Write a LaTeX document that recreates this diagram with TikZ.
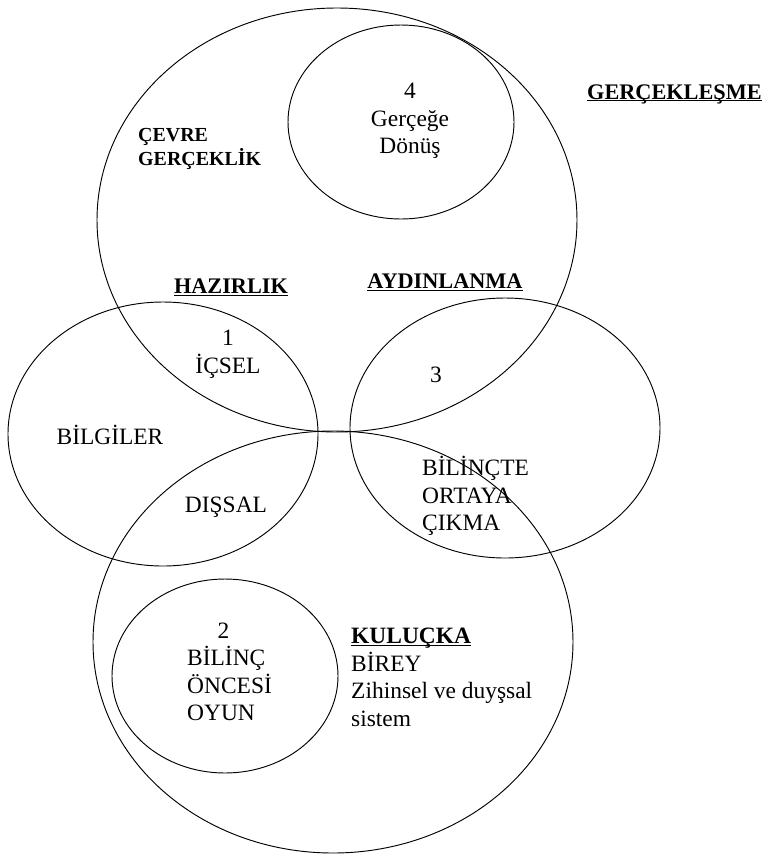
\documentclass[tikz,border=0pt]{standalone}
\usepackage{fontspec}
\setmainfont{Liberation Serif}
\newcommand{\headline}[1]{\underline{\smash{\textbf{#1}}}}
\begin{document}
\begin{tikzpicture}[x=0.03cm,y=-0.03cm,
    ring/.style={line width=0.8pt},
    txt/.style={inner sep=0pt, font=\fontsize{20}{23.5}\selectfont, align=center},
    head/.style={inner sep=0pt, font=\fontsize{19}{23.5}\selectfont}]
  \useasboundingbox (0,0) rectangle (762,855);
  % Big ellipses: reality (top) and individual (bottom)
  \draw[ring] (337,220) ellipse [x radius=240, y radius=212];
  \draw[ring] (333,642) ellipse [x radius=240, y radius=211];
  % Side circles: preparation (left) and illumination (right)
  \draw[ring] (163,434) ellipse [x radius=155, y radius=132];
  \draw[ring] (505,428) ellipse [x radius=155, y radius=130];
  % Inner circles 4 and 2
  \draw[ring] (401,122) ellipse [x radius=113, y radius=97];
  \draw[ring] (225,676) ellipse [x radius=113, y radius=97];
  % Headings
  \node[head, anchor=base west] (real) at (587,99) {\headline{GERÇEKLEŞME}};
  \node[head] (prep) at (231,295) {\headline{HAZIRLIK}};
  \node[head] (illum) at (445,290) {\headline{AYDINLANMA}};
  \node[txt, anchor=west, align=left, font={\fontsize{17}{20.5}\selectfont\bfseries}] (env) at (138,149) {ÇEVRE\\GERÇEKLİK};
  % Texts inside the circles
  \node[txt] (four) at (410,121) {4\\Gerçeğe\\Dönüş};
  \node[txt] (one) at (228,354) {1\\İÇSEL};
  \node[txt] (three) at (436,375) {3};
  \node[txt] (know) at (110,435) {BİLGİLER};
  \node[txt] (outer) at (226,507) {DIŞSAL};
  \node[txt, anchor=west, align=left] (aware) at (422,496) {BİLİNÇTE\\ORTAYA\\ÇIKMA};
  \node[txt, anchor=west, align=left] (two) at (187,672) {\hspace*{1.3em}2\\BİLİNÇ\\ÖNCESİ\\OYUN};
  \node[txt, anchor=west, align=left] (incub) at (351,685) {\headline{KULUÇKA}\\BİREY\\Zihinsel ve duyşsal\\sistem};
\end{tikzpicture}
\end{document}
